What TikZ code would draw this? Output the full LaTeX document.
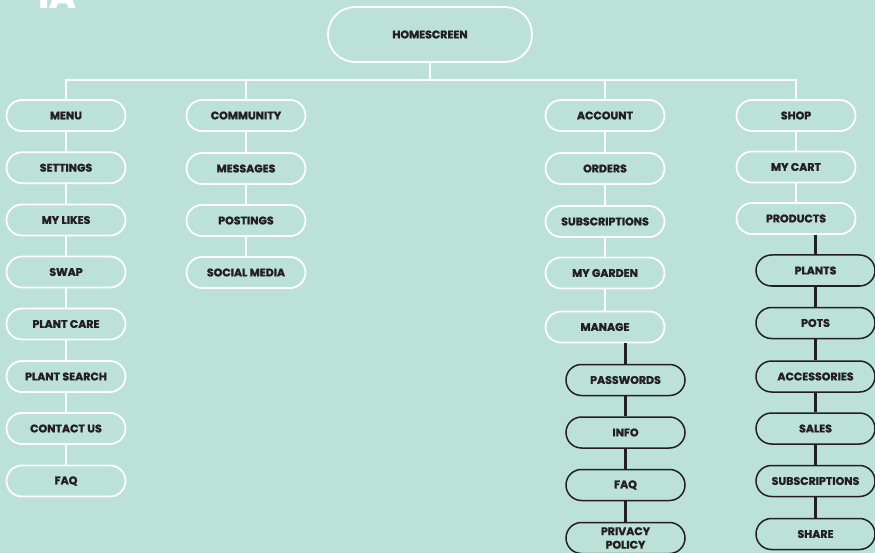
\documentclass[tikz,border=0pt]{standalone}
\usepackage{fontspec}
\setmainfont{Poppins}[BoldFeatures={FakeBold=1.6}]
\usepackage{tikz}

\definecolor{mint}{RGB}{188,225,216}
\definecolor{ink}{RGB}{35,31,32}

\begin{document}
\begin{tikzpicture}[x=1pt,y=-1pt,
    box/.style={draw=white,line width=1.8pt,rectangle,rounded corners=15.5pt,
      minimum width=119pt,minimum height=31pt,inner sep=0pt,
      text=ink,font=\bfseries\fontsize{11}{13.5}\selectfont},
    subbox/.style={box,draw=ink,line width=1.5pt},
    wline/.style={draw=white,line width=2.2pt},
    bline/.style={draw=ink,line width=2.8pt}]
  \fill[mint] (0,0) rectangle (875,553);
  \useasboundingbox (0,0) rectangle (875,553);

  \node[text=white,font=\bfseries\fontsize{36}{36}\selectfont,anchor=base] (ia) at (57,7.5) {IA};

  \node[box,minimum width=204pt,minimum height=55pt,rounded corners=27pt] (home) at (430,34.5) {HOMESCREEN};
  \coordinate (hub) at (430,80);

  \node[box] (menu) at (66,115.5) {MENU};
  \node[box] (settings) at (66,167.7) {SETTINGS};
  \node[box] (mylikes) at (66,220) {MY LIKES};
  \node[box] (swap) at (66,272) {SWAP};
  \node[box] (plantcare) at (66,324) {PLANT CARE};
  \node[box] (plantsearch) at (66,376.5) {PLANT SEARCH};
  \node[box] (contact) at (66,428.5) {CONTACT US};
  \node[box] (faq) at (66,481) {FAQ};

  \node[box] (community) at (246,115.5) {COMMUNITY};
  \node[box] (messages) at (246,168.5) {MESSAGES};
  \node[box] (postings) at (246,220.5) {POSTINGS};
  \node[box] (social) at (246,272.5) {SOCIAL MEDIA};

  \node[box] (account) at (605,115.5) {ACCOUNT};
  \node[box] (orders) at (605,168.5) {ORDERS};
  \node[box] (subscriptions) at (605,221.5) {SUBSCRIPTIONS};
  \node[box] (garden) at (605,273) {MY GARDEN};
  \node[box] (manage) at (605,327) {MANAGE};

  \node[subbox] (passwords) at (625.5,380) {PASSWORDS};
  \node[subbox] (info) at (625.5,432.5) {INFO};
  \node[subbox] (accfaq) at (625.5,485) {FAQ};
  \node[subbox,align=center] (privacy) at (625.5,538) {PRIVACY\\POLICY};

  \node[box] (shop) at (796,115.5) {SHOP};
  \node[box] (cart) at (796,167) {MY CART};
  \node[box] (products) at (796,218.5) {PRODUCTS};

  \node[subbox] (plants) at (815.5,270.5) {PLANTS};
  \node[subbox] (pots) at (815.5,323) {POTS};
  \node[subbox] (accessories) at (815.5,376.5) {ACCESSORIES};
  \node[subbox] (sales) at (815.5,428.5) {SALES};
  \node[subbox] (shopsubs) at (815.5,481) {SUBSCRIPTIONS};
  \node[subbox] (share) at (815.5,534) {SHARE};

  \draw[wline] (home) -- (hub);
  \draw[wline] (menu) -- (menu |- hub) -- (shop |- hub) -- (shop);
  \draw[wline] (community) -- (community |- hub);
  \draw[wline] (account) -- (account |- hub);

  \draw[wline] (menu) -- (settings);
  \draw[wline] (settings) -- (mylikes);
  \draw[wline] (mylikes) -- (swap);
  \draw[wline] (swap) -- (plantcare);
  \draw[wline] (plantcare) -- (plantsearch);
  \draw[wline] (plantsearch) -- (contact);
  \draw[wline] (contact) -- (faq);

  \draw[wline] (community) -- (messages);
  \draw[wline] (messages) -- (postings);
  \draw[wline] (postings) -- (social);

  \draw[wline] (account) -- (orders);
  \draw[wline] (orders) -- (subscriptions);
  \draw[wline] (subscriptions) -- (garden);
  \draw[wline] (garden) -- (manage);

  \draw[wline] (shop) -- (cart);
  \draw[wline] (cart) -- (products);

  \draw[bline] (manage.south -| passwords) -- (passwords);
  \draw[bline] (passwords) -- (info);
  \draw[bline] (info) -- (accfaq);
  \draw[bline] (accfaq) -- (privacy);

  \draw[bline] (products.south -| plants) -- (plants);
  \draw[bline] (plants) -- (pots);
  \draw[bline] (pots) -- (accessories);
  \draw[bline] (accessories) -- (sales);
  \draw[bline] (sales) -- (shopsubs);
  \draw[bline] (shopsubs) -- (share);
\end{tikzpicture}
\end{document}
